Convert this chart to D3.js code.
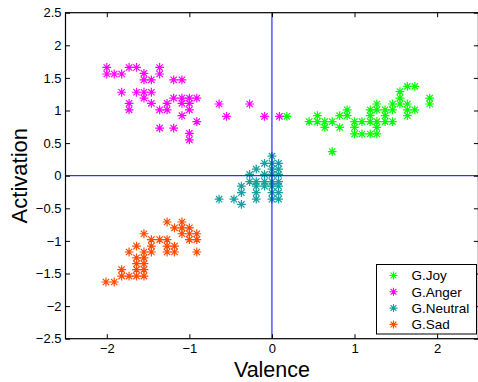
<!DOCTYPE html>
<html>
<head>
<meta charset="utf-8">
<script src="https://cdn.jsdelivr.net/npm/d3@7"></script>
<style>
  html, body { margin: 0; padding: 0; background: #fff; }
  svg { display: block; font-family: "Liberation Sans", Arial, sans-serif; }
</style>
</head>
<body>
<svg id="chart" width="478" height="382"></svg>
<script>
// Emotion samples in the valence / activation plane: [valence, activation]
const joy = [
  [0.18,0.91],[0.45,0.83],[0.55,0.92],[0.55,0.83],[0.64,0.83],[0.64,0.74],[0.73,0.83],
  [0.82,0.92],[0.82,0.74],[0.91,1.01],[0.91,0.92],[1.00,0.83],[1.00,0.74],[1.00,0.64],
  [1.09,0.83],[1.09,0.64],[1.19,1.01],[1.19,0.92],[1.19,0.83],[1.19,0.64],[1.27,1.10],
  [1.27,1.01],[1.27,0.83],[1.27,0.74],[1.27,0.64],[1.37,1.01],[1.37,0.92],[1.37,0.83],
  [1.46,1.10],[1.46,1.01],[1.46,0.83],[1.55,1.29],[1.55,1.19],[1.55,1.10],[1.64,1.37],
  [1.73,1.37],[1.64,1.10],[1.64,1.01],[1.64,0.92],[1.73,1.01],[1.91,1.19],[1.91,1.10],
  [0.73,0.37]
];
const anger = [
  [-2.00,1.66],[-2.00,1.56],[-1.91,1.56],[-1.82,1.56],[-1.73,1.66],[-1.64,1.66],[-1.55,1.57],
  [-1.55,1.47],[-1.46,1.47],[-1.36,1.66],[-1.36,1.56],[-1.19,1.47],[-1.09,1.47],[-1.82,1.28],
  [-1.64,1.28],[-1.55,1.28],[-1.46,1.28],[-1.55,1.19],[-1.73,1.11],[-1.73,1.01],[-1.46,1.11],
  [-1.36,1.01],[-1.27,1.11],[-1.27,1.01],[-1.19,1.19],[-1.09,1.19],[-1.00,1.19],[-0.91,1.19],
  [-1.09,1.11],[-1.00,1.11],[-1.00,1.01],[-1.09,0.92],[-0.91,0.83],[-1.36,0.73],[-1.19,0.73],
  [-1.00,0.65],[-1.00,0.55],[-0.64,1.10],[-0.27,1.10],[-0.55,0.91],[-0.09,0.91],[0.09,0.91]
];
const neutral = [
  [0.00,0.30],[-0.09,0.19],[0.00,0.19],[0.08,0.19],[-0.19,0.10],[0.00,0.10],[0.08,0.10],
  [-0.27,0.02],[-0.09,0.02],[0.00,0.02],[0.08,0.02],[-0.27,-0.09],[-0.19,-0.09],[-0.09,-0.09],
  [0.00,-0.09],[0.08,-0.09],[-0.37,-0.16],[-0.19,-0.16],[-0.09,-0.16],[0.00,-0.16],[0.08,-0.16],
  [-0.37,-0.26],[-0.19,-0.26],[0.00,-0.26],[0.08,-0.26],[-0.64,-0.36],[-0.46,-0.36],[-0.19,-0.36],
  [0.00,-0.36],[0.08,-0.36],[-0.37,-0.44]
];
const sad = [
  [-2.01,-1.63],[-1.91,-1.63],[-1.82,-1.44],[-1.82,-1.54],[-1.73,-1.54],[-1.64,-1.26],[-1.64,-1.35],
  [-1.64,-1.44],[-1.64,-1.54],[-1.55,-1.26],[-1.55,-1.35],[-1.55,-1.44],[-1.55,-1.54],[-1.55,-1.17],
  [-1.73,-1.17],[-1.64,-1.08],[-1.55,-0.89],[-1.46,-0.98],[-1.46,-1.08],[-1.46,-1.17],[-1.36,-0.98],
  [-1.27,-0.98],[-1.27,-1.08],[-1.27,-1.17],[-1.18,-1.08],[-1.18,-1.17],[-1.27,-0.71],[-1.18,-0.80],
  [-1.09,-0.71],[-1.09,-0.80],[-1.09,-0.89],[-1.00,-0.80],[-1.00,-0.89],[-1.00,-0.98],
  [-0.91,-0.89],[-0.91,-0.98],[-0.91,-1.17]
];

const seriesNames = ["G.Joy", "G.Anger", "G.Neutral", "G.Sad"];
const seriesColors = ["#00ff00", "#ff00ff", "#16a0a0", "#ff4a00"];
const seriesData = [joy, anger, neutral, sad];

const xTicks = [-2, -1, 0, 1, 2];
const yTicks = [-2.5, -2, -1.5, -1, -0.5, 0, 0.5, 1, 1.5, 2, 2.5];

const svg = d3.select("#chart");
const plotL = 65.5, plotR = 478.4, plotT = 12.7, plotB = 338.7;

const x = d3.scaleLinear().domain([-2.5, 2.5]).range([plotL, plotR]);
const y = d3.scaleLinear().domain([-2.5, 2.5]).range([plotB, plotT]);

const fmt = v => (v < 0 ? "\u2212" : "") + Math.abs(v);

// asterisk marker: horizontal, vertical and two diagonal strokes
function star(r) {
  const d = r * 0.72;
  return `M${-r},0H${r}M0,${-r}V${r}M${-d},${-d}L${d},${d}M${-d},${d}L${d},${-d}`;
}
const markerR = 4.4;
const markerW = 1.2;

const tickLen = 4.5;
const g = svg.append("g");

// points
seriesData.forEach((data, i) => {
  g.append("g")
    .selectAll("path")
    .data(data)
    .join("path")
    .attr("transform", d => `translate(${x(d[0])},${y(d[1])})`)
    .attr("d", star(markerR))
    .attr("fill", "none")
    .attr("stroke", seriesColors[i])
    .attr("stroke-width", markerW);
});

// zero reference lines
g.append("line")
  .attr("x1", x(0)).attr("x2", x(0)).attr("y1", plotT).attr("y2", plotB)
  .attr("stroke", "#0000ff").attr("stroke-width", 1);
g.append("line")
  .attr("x1", plotL).attr("x2", plotR).attr("y1", y(0)).attr("y2", y(0))
  .attr("stroke", "#0000ff").attr("stroke-width", 1);

// axes, ticks pointing inward on all four sides
const xAxisB = d3.axisBottom(x).tickValues(xTicks).tickSize(-tickLen).tickPadding(5).tickFormat(fmt);
const xAxisT = d3.axisTop(x).tickValues(xTicks).tickSize(-tickLen).tickFormat("");
const yAxisL = d3.axisLeft(y).tickValues(yTicks).tickSize(-tickLen).tickPadding(4).tickFormat(fmt);
const yAxisR = d3.axisRight(y).tickValues(yTicks).tickSize(-tickLen).tickFormat("");

function styleAxis(sel) {
  sel.select(".domain").remove();
  sel.selectAll(".tick line").attr("stroke", "#000").attr("stroke-width", 1);
  sel.selectAll(".tick text")
    .attr("fill", "#000")
    .style("font-family", "'Liberation Sans', Arial, sans-serif")
    .style("font-size", "13px");
}

svg.append("g").attr("transform", `translate(0,${plotB})`).call(xAxisB).call(styleAxis);
svg.append("g").attr("transform", `translate(0,${plotT})`).call(xAxisT).call(styleAxis);
svg.append("g").attr("transform", `translate(${plotL},0)`).call(yAxisL).call(styleAxis);
svg.append("g").attr("transform", `translate(${plotR},0)`).call(yAxisR).call(styleAxis);

// plot box
svg.append("rect")
  .attr("x", plotL).attr("y", plotT)
  .attr("width", plotR - plotL).attr("height", plotB - plotT)
  .attr("fill", "none").attr("stroke", "#000").attr("stroke-width", 1.2);

// axis titles
svg.append("text")
  .attr("x", x(0)).attr("y", 377)
  .attr("text-anchor", "middle")
  .style("font-size", "21.5px")
  .text("Valence");
svg.append("text")
  .attr("transform", `translate(26.5,${y(0)}) rotate(-90)`)
  .attr("text-anchor", "middle")
  .style("font-size", "22px")
  .text("Activation");

// legend
const lg = svg.append("g");
lg.append("rect")
  .attr("x", 376.5).attr("y", 264.5).attr("width", 100).attr("height", 69.5)
  .attr("fill", "#fff").attr("stroke", "#000").attr("stroke-width", 1);
seriesNames.forEach((name, i) => {
  const cy = 275.5 + i * 16.3;
  lg.append("path")
    .attr("transform", `translate(393.5,${cy})`)
    .attr("d", star(4))
    .attr("fill", "none")
    .attr("stroke", seriesColors[i])
    .attr("stroke-width", 1.1);
  lg.append("text")
    .attr("x", 411.5).attr("y", cy)
    .attr("dy", "0.36em")
    .style("font-size", "13.5px")
    .text(name);
});
</script>
</body>
</html>
